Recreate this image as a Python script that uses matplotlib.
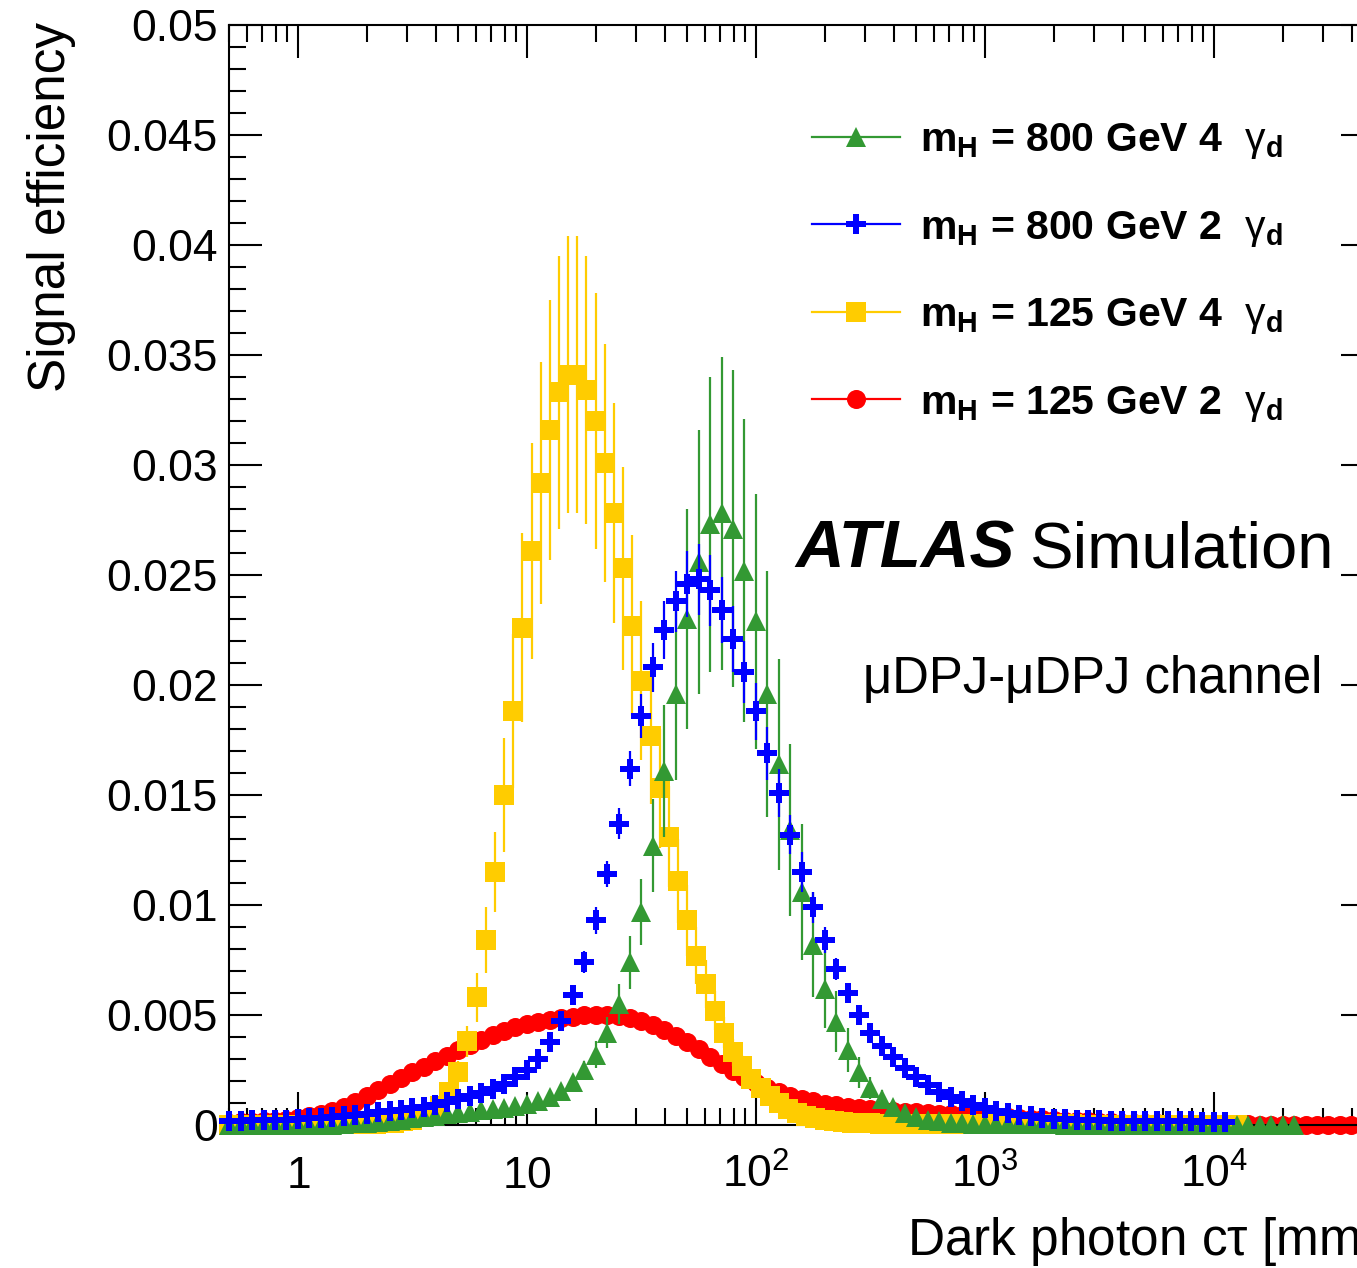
import numpy as np
import matplotlib
matplotlib.use("Agg")
import matplotlib.pyplot as plt
from matplotlib.lines import Line2D
from matplotlib.ticker import FixedLocator, FixedFormatter, MultipleLocator, LogLocator, NullFormatter

plt.rcParams['font.family'] = ['Liberation Sans', 'DejaVu Sans']
plt.rcParams['mathtext.fontset'] = 'custom'
plt.rcParams['mathtext.rm'] = 'Liberation Sans'
plt.rcParams['mathtext.it'] = 'Liberation Sans:italic'
plt.rcParams['mathtext.bf'] = 'Liberation Sans:bold'

# ---------------- data (bin centres are log10 spaced) ----------------
# m_H = 125 GeV, 2 gamma_d  (bins: log10 start -0.30, step 0.05)
red_log_start, red_log_step = -0.30, 0.05
red_eff = [
    0.00010, 0.00012, 0.00014, 0.00017, 0.00020, 0.00025, 0.00031, 0.00039, 0.00050, 0.00064,
    0.00082, 0.00104, 0.00130, 0.00158, 0.00187, 0.00214, 0.00240, 0.00265, 0.00290, 0.00315,
    0.00340, 0.00364, 0.00388, 0.00409, 0.00428, 0.00444, 0.00457, 0.00468, 0.00478, 0.00486,
    0.00493, 0.00498, 0.00500, 0.00499, 0.00494, 0.00485, 0.00471, 0.00453, 0.00431, 0.00405,
    0.00376, 0.00344, 0.00311, 0.00278, 0.00246, 0.00216, 0.00190, 0.00168, 0.00149, 0.00133,
    0.00119, 0.00107, 0.00097, 0.00089, 0.00082, 0.00077, 0.00072, 0.00068, 0.00065, 0.00061,
    0.00058, 0.00055, 0.00052, 0.00049, 0.00046, 0.00044, 0.00041, 0.00038, 0.00035, 0.00032,
    0.00029, 0.00026, 0.00023, 0.00020, 0.00018, 0.00016, 0.00014, 0.00012, 0.00010, 0.00009,
    0.00008, 0.00007, 0.00006, 0.00005, 0.00005, 0.00004, 0.00004, 0.00003, 0.00003, 0.00003,
    0.00002, 0.00002, 0.00002, 0.00002, 0.00002, 0.00001, 0.00001, 0.00001, 0.00001, 0.00001,
    0.00001,
]

# m_H = 800 GeV, 2 gamma_d  (bins: log10 start -0.30, step 0.05)
blue_log_start, blue_log_step = -0.30, 0.05
blue_eff = [
    0.00020, 0.00020, 0.00021, 0.00022, 0.00023, 0.00025, 0.00027, 0.00030, 0.00033, 0.00037,
    0.00041, 0.00046, 0.00052, 0.00058, 0.00064, 0.00070, 0.00076, 0.00083, 0.00092, 0.00105,
    0.00118, 0.00130, 0.00145, 0.00165, 0.00188, 0.00218, 0.00248, 0.00300, 0.00378, 0.00475,
    0.00592, 0.00740, 0.00930, 0.01140, 0.01370, 0.01620, 0.01860, 0.02080, 0.02250, 0.02380,
    0.02460, 0.02480, 0.02430, 0.02340, 0.02210, 0.02060, 0.01880, 0.01690, 0.01510, 0.01320,
    0.01150, 0.00990, 0.00840, 0.00710, 0.00600, 0.00500, 0.00420, 0.00360, 0.00310, 0.00260,
    0.00220, 0.00180, 0.00150, 0.00128, 0.00108, 0.00092, 0.00078, 0.00064, 0.00054, 0.00046,
    0.00039, 0.00033, 0.00029, 0.00026, 0.00024, 0.00022, 0.00021, 0.00020, 0.00019, 0.00018,
    0.00018, 0.00017, 0.00017, 0.00016, 0.00016, 0.00015, 0.00015, 0.00015,
]
blue_err = [
    0, 0, 0, 0, 0, 0, 0, 0, 0, 0,
    0, 0, 0, 0, 0, 0, 0, 0, 0, 0.0001,
    0.0001, 0.0001, 0.0001, 0.0001, 0.0001, 0.0001, 0.0001, 0.0002, 0.0002, 0.0003,
    0.0003, 0.0005, 0.0006, 0.0006, 0.0007, 0.0008, 0.0010, 0.0011, 0.0013, 0.0014,
    0.0015, 0.0016, 0.0016, 0.0015, 0.0015, 0.0014, 0.0013, 0.0012, 0.0011, 0.0009,
    0.0009, 0.0007, 0.0006, 0.0005, 0.0004, 0.0003, 0.0003, 0.0002, 0.0002, 0.0002,
    0.0001, 0.0001, 0.0001, 0.0001, 0.0001, 0, 0, 0, 0, 0,
    0, 0, 0, 0, 0, 0, 0, 0, 0, 0,
    0, 0, 0, 0, 0, 0, 0, 0,
]

# m_H = 800 GeV, 4 gamma_d  (bins: log10 start -0.30, step 0.05)
green_log_start, green_log_step = -0.30, 0.05
green_eff = [
    0.0, 0.0, 0.0, 0.0, 0.0, 0.0, 0.0, 0.0, 0.00001, 0.00002,
    0.00004, 0.00007, 0.00010, 0.00014, 0.00019, 0.00025, 0.00031, 0.00037, 0.00043, 0.00048,
    0.00054, 0.00060, 0.00066, 0.00072, 0.00078, 0.00086, 0.00096, 0.00108, 0.00128, 0.00155,
    0.00195, 0.00250, 0.00320, 0.00420, 0.00550, 0.00740, 0.00970, 0.01270, 0.01610, 0.01960,
    0.02300, 0.02560, 0.02730, 0.02780, 0.02710, 0.02520, 0.02290, 0.01960, 0.01640, 0.01340,
    0.01060, 0.00820, 0.00620, 0.00470, 0.00340, 0.00240, 0.00170, 0.00120, 0.00080, 0.00055,
    0.00038, 0.00025, 0.00017, 0.00011, 0.00008, 0.00006, 0.00005, 0.00004, 0.00004, 0.00003,
    0.00003, 0.00003, 0.00003, 0.00002, 0.00002, 0.00002, 0.00002, 0.00002, 0.00002, 0.00002,
    0.00001, 0.00001, 0.00001, 0.00001, 0.00001, 0.00001, 0.00001, 0.00001, 0.00001, 0.00001,
    0.00001, 0.00001, 0.00001, 0.00001,
]
green_err = [
    0, 0, 0, 0, 0, 0, 0, 0, 0, 0,
    0, 0, 0, 0, 0, 0, 0.0001, 0.0001, 0.0001, 0.0001,
    0.0001, 0.0001, 0.0001, 0.0001, 0.0001, 0.0001, 0.0002, 0.0002, 0.0002, 0.0002,
    0.0003, 0.0004, 0.0006, 0.0007, 0.0009, 0.0012, 0.0015, 0.0021, 0.0030, 0.0039,
    0.0050, 0.0060, 0.0067, 0.0071, 0.0072, 0.0069, 0.0058, 0.0056, 0.0048, 0.0039,
    0.0031, 0.0024, 0.0018, 0.0014, 0.0010, 0.0007, 0.0005, 0.0004, 0.0003, 0.0002,
    0.0001, 0.0001, 0, 0, 0, 0, 0, 0, 0, 0,
    0, 0, 0, 0, 0, 0, 0, 0, 0, 0,
    0, 0, 0, 0, 0, 0, 0, 0, 0, 0,
    0, 0, 0, 0,
]

# m_H = 125 GeV, 4 gamma_d  (bins: log10 start -0.30, step 0.04)
yellow_log_start, yellow_log_step = -0.30, 0.04
yellow_eff = [
    0.0, 0.0, 0.0, 0.0, 0.0, 0.0, 0.0, 0.0, 0.00001, 0.00001,
    0.00002, 0.00002, 0.00003, 0.00003, 0.00004, 0.00005, 0.00006, 0.00008, 0.00011, 0.00016,
    0.00024, 0.00035, 0.00052, 0.00085, 0.00150, 0.00240, 0.00380, 0.00580, 0.00840, 0.01150,
    0.01500, 0.01880, 0.02260, 0.02610, 0.02920, 0.03160, 0.03330, 0.03410, 0.03410, 0.03340,
    0.03200, 0.03010, 0.02780, 0.02530, 0.02270, 0.02020, 0.01770, 0.01530, 0.01310, 0.01110,
    0.00930, 0.00770, 0.00640, 0.00520, 0.00420, 0.00330, 0.00270, 0.00210, 0.00170, 0.00130,
    0.00100, 0.00075, 0.00055, 0.00040, 0.00030, 0.00022, 0.00017, 0.00013, 0.00010, 0.00008,
    0.00007, 0.00006, 0.00005, 0.00005, 0.00005, 0.00004, 0.00004, 0.00004, 0.00004, 0.00003,
    0.00003, 0.00003, 0.00003, 0.00003, 0.00003, 0.00003, 0.00003, 0.00003, 0.00003, 0.00003,
    0.00003, 0.00003, 0.00003, 0.00002, 0.00002, 0.00002, 0.00002, 0.00002, 0.00002, 0.00002,
    0.00002, 0.00002, 0.00002, 0.00002, 0.00002, 0.00002, 0.00002, 0.00002, 0.00002, 0.00002,
    0.00002,
]
yellow_err = [
    0, 0, 0, 0, 0, 0, 0, 0, 0, 0,
    0, 0, 0, 0, 0, 0, 0, 0, 0, 0,
    0.0001, 0.0001, 0.0001, 0.0002, 0.0003, 0.0005, 0.0007, 0.0011, 0.0015, 0.0018,
    0.0026, 0.0035, 0.0043, 0.0049, 0.0055, 0.0059, 0.0062, 0.0063, 0.0063, 0.0061,
    0.0058, 0.0054, 0.0050, 0.0046, 0.0041, 0.0036, 0.0031, 0.0027, 0.0023, 0.0019,
    0.0016, 0.0013, 0.0011, 0.0009, 0.0007, 0.0006, 0.0005, 0.0004, 0.0003, 0.0002,
    0.0002, 0.0001, 0.0001, 0, 0, 0, 0, 0, 0, 0,
    0, 0, 0, 0, 0, 0, 0, 0, 0, 0,
    0, 0, 0, 0, 0, 0, 0, 0, 0, 0,
    0, 0, 0, 0, 0, 0, 0, 0, 0, 0,
    0, 0, 0, 0, 0, 0, 0, 0, 0, 0,
    0,
]

legend_labels = [
    r"$\mathbf{m}_{\mathbf{H}}$ = 800 GeV 4  $\mathrm{\gamma}_{\mathbf{d}}$",
    r"$\mathbf{m}_{\mathbf{H}}$ = 800 GeV 2  $\mathrm{\gamma}_{\mathbf{d}}$",
    r"$\mathbf{m}_{\mathbf{H}}$ = 125 GeV 4  $\mathrm{\gamma}_{\mathbf{d}}$",
    r"$\mathbf{m}_{\mathbf{H}}$ = 125 GeV 2  $\mathrm{\gamma}_{\mathbf{d}}$",
]
x_tick_values = [1, 10, 100, 1000, 10000]
x_tick_labels = [r"$1$", r"$10$", r"$10^{2}$", r"$10^{3}$", r"$10^{4}$"]
y_tick_values = [0, 0.005, 0.01, 0.015, 0.02, 0.025, 0.03, 0.035, 0.04, 0.045, 0.05]
y_tick_labels = ["0", "0.005", "0.01", "0.015", "0.02", "0.025", "0.03", "0.035", "0.04", "0.045", "0.05"]

# ---------------- styles ----------------
C_GREEN = "#339933"
C_BLUE = "#0000ff"
C_YELLOW = "#ffcc00"
C_RED = "#ff0000"
MS = 13.7

W, H = 1357, 1268
fig = plt.figure(figsize=(W / 100, H / 100), dpi=100)
ax_left, ax_right, ax_top, ax_bottom = 229, 1374, 25, 1125
ax = fig.add_axes([ax_left / W, (H - ax_bottom) / H, (ax_right - ax_left) / W, (ax_bottom - ax_top) / H])


def bins(start, step, n):
    return 10 ** (start + step * np.arange(n))


red_x = bins(red_log_start, red_log_step, len(red_eff))
blue_x = bins(blue_log_start, blue_log_step, len(blue_eff))
green_x = bins(green_log_start, green_log_step, len(green_eff))
yellow_x = bins(yellow_log_start, yellow_log_step, len(yellow_eff))


def draw(x, y, err, color, marker, z):
    if err is not None:
        ax.errorbar(x, y, yerr=err, fmt="none", ecolor=color, elinewidth=1.6,
                    capsize=0, zorder=z - 0.01)
    ax.plot(x, y, linestyle="none", marker=marker, ms=MS, color=color,
            mew=0, zorder=z, clip_on=False)


draw(red_x, red_eff, None, C_RED, "o", 2.0)
draw(yellow_x, yellow_eff, yellow_err, C_YELLOW, "s", 3.0)
draw(green_x, green_eff, green_err, C_GREEN, "^", 3.1)
draw(blue_x, blue_eff, blue_err, C_BLUE, "P", 3.2)

ax.set_xscale("log")
ax.set_xlim(0.5, 5e4)
ax.set_ylim(0, 0.05)

ax.xaxis.set_major_locator(FixedLocator(x_tick_values))
ax.xaxis.set_major_formatter(FixedFormatter(x_tick_labels))
ax.xaxis.set_minor_locator(LogLocator(base=10, subs=np.arange(2, 10), numticks=30))
ax.xaxis.set_minor_formatter(NullFormatter())
ax.yaxis.set_major_locator(FixedLocator(y_tick_values))
ax.yaxis.set_major_formatter(FixedFormatter(y_tick_labels))
ax.yaxis.set_minor_locator(MultipleLocator(0.001))

for s in ax.spines.values():
    s.set_linewidth(1.5)
ax.tick_params(which="both", direction="in", top=True, right=True, width=1.5, labelsize=32)
ax.tick_params(which="major", length=23.5)
ax.tick_params(which="minor", length=12)
ax.tick_params(axis="y", which="major", pad=8)
ax.tick_params(axis="x", which="major", pad=45)
for t in ax.xaxis.get_major_ticks():
    t.label1.set_verticalalignment("baseline")

# axis titles (ROOT style: aligned to the end of the axes)
fig.text(52 / W, 1 - 22 / H, "Signal efficiency", rotation=90, ha="center", va="top", fontsize=37)
fig.text(ax_right / W, 1 - 1255 / H, r"Dark photon c$\mathrm{\tau}$ [mm]", ha="right", va="baseline", fontsize=37)

# legend
handles = [
    Line2D([], [], color=C_GREEN, marker="^", ms=MS, mew=0, lw=1.6),
    Line2D([], [], color=C_BLUE, marker="P", ms=MS, mew=0, lw=1.6),
    Line2D([], [], color=C_YELLOW, marker="s", ms=MS, mew=0, lw=1.6),
    Line2D([], [], color=C_RED, marker="o", ms=MS, mew=0, lw=1.6),
]
ax.legend(handles, legend_labels, loc="upper left", bbox_to_anchor=(812 / W, 1 - 121 / H),
          bbox_transform=fig.transFigure, frameon=False, borderpad=0, borderaxespad=0,
          handlelength=2.15, handletextpad=0.48, labelspacing=1.16, numpoints=1,
          prop={"size": 29.5, "weight": "bold"})

# ATLAS label
fig.text(795 / W, 1 - 567 / H, "ATLAS", fontsize=48.5, fontweight="bold", fontstyle="italic",
         ha="left", va="baseline")
fig.text(1030 / W, 1 - 567 / H, "Simulation", fontsize=47, ha="left", va="baseline")
fig.text(1322 / W, 1 - 693 / H, "\u03bcDPJ-\u03bcDPJ channel", fontsize=36.6, ha="right", va="baseline")

fig.savefig("out.png", dpi=100)
